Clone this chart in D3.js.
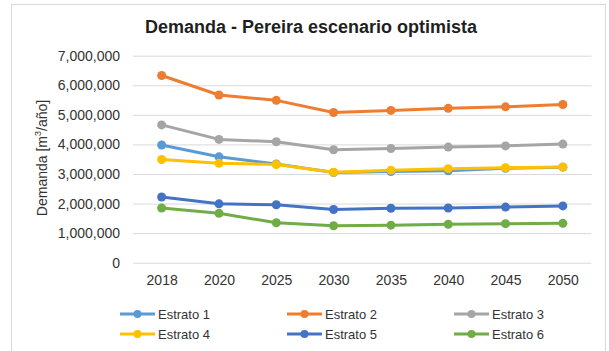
<!DOCTYPE html>
<html>
<head>
<meta charset="utf-8">
<script src="https://cdn.jsdelivr.net/npm/d3@7"></script>
<style>
  html, body { margin: 0; padding: 0; background: #fff; }
  svg { display: block; font-family: "Liberation Sans", Arial, sans-serif; }
</style>
</head>
<body>
<svg id="chart" width="609" height="351"></svg>
<script>
// Years on the horizontal axis
const years = ["2018", "2020", "2025", "2030", "2035", "2040", "2045", "2050"];

// Demand per stratum, m³/año
const estrato1 = [3980000, 3580000, 3340000, 3050000, 3080000, 3110000, 3190000, 3230000];
const estrato2 = [6330000, 5670000, 5490000, 5080000, 5150000, 5220000, 5270000, 5350000];
const estrato3 = [4660000, 4170000, 4090000, 3820000, 3860000, 3910000, 3950000, 4010000];
const estrato4 = [3490000, 3360000, 3320000, 3060000, 3130000, 3180000, 3210000, 3240000];
const estrato5 = [2220000, 1990000, 1960000, 1800000, 1840000, 1850000, 1880000, 1920000];
const estrato6 = [1850000, 1670000, 1350000, 1250000, 1270000, 1300000, 1320000, 1330000];

const seriesNames = ["Estrato 1", "Estrato 2", "Estrato 3", "Estrato 4", "Estrato 5", "Estrato 6"];
const seriesColors = ["#5B9BD5", "#ED7D31", "#A5A5A5", "#FFC000", "#4472C4", "#70AD47"];
const yTicks = [0, 1000000, 2000000, 3000000, 4000000, 5000000, 6000000, 7000000];

const series = [estrato1, estrato2, estrato3, estrato4, estrato5, estrato6].map((vals, i) => ({
  name: seriesNames[i],
  color: seriesColors[i],
  values: vals.map((v, j) => ({ year: years[j], value: v }))
}));

const svg = d3.select("#chart");

// Chart frame
svg.append("rect")
  .attr("x", 11.5).attr("y", 4.5)
  .attr("width", 594).attr("height", 360)
  .attr("fill", "#fff").attr("stroke", "#D9D9D9").attr("stroke-width", 1);

const plot = { left: 133, right: 591.5, top: 55.7, bottom: 262.7 };

const x = d3.scalePoint().domain(years).range([plot.left, plot.right]).padding(0.5);
const y = d3.scaleLinear().domain([0, 7000000]).range([plot.bottom, plot.top]);

// Title
svg.append("text")
  .attr("x", 311).attr("y", 33)
  .attr("text-anchor", "middle")
  .attr("font-size", 18).attr("font-weight", "bold")
  .attr("fill", "#1f1f1f")
  .text("Demanda - Pereira escenario optimista");

// Horizontal gridlines and value labels
const yAxis = d3.axisLeft(y)
  .tickValues(yTicks)
  .tickFormat(d3.format(","))
  .tickSize(-(plot.right - plot.left))
  .tickPadding(13);

const gy = svg.append("g")
  .attr("transform", `translate(${plot.left},0)`)
  .call(yAxis);
gy.select(".domain").remove();
gy.selectAll(".tick line").attr("stroke", "#D9D9D9").attr("stroke-width", 1);
gy.selectAll(".tick text")
  .attr("font-size", 14).attr("fill", "#333")
  .attr("font-family", "Liberation Sans, Arial, sans-serif");

// Category labels
const xAxis = d3.axisBottom(x).tickSize(0).tickPadding(12);
const gx = svg.append("g")
  .attr("transform", `translate(0,${plot.bottom})`)
  .call(xAxis);
gx.select(".domain").remove();
gx.selectAll(".tick text")
  .attr("font-size", 14).attr("fill", "#333")
  .attr("font-family", "Liberation Sans, Arial, sans-serif");

// Vertical axis title
const yTitle = svg.append("text")
  .attr("transform", "translate(47,158) rotate(-90)")
  .attr("text-anchor", "middle")
  .attr("font-size", 14).attr("fill", "#333");
yTitle.append("tspan").text("Demanda [m");
yTitle.append("tspan").attr("font-size", 9).attr("dy", -6).text("3");
yTitle.append("tspan").attr("dy", 6).text("/año]");

// Lines and markers
const line = d3.line().x(d => x(d.year)).y(d => y(d.value));

const gs = svg.append("g").selectAll("g").data(series).join("g");
gs.append("path")
  .attr("d", d => line(d.values))
  .attr("fill", "none")
  .attr("stroke", d => d.color)
  .attr("stroke-width", 3)
  .attr("stroke-linejoin", "round");
gs.selectAll("circle")
  .data(d => d.values.map(v => ({ ...v, color: d.color })))
  .join("circle")
  .attr("cx", d => x(d.year))
  .attr("cy", d => y(d.value))
  .attr("r", 4.5)
  .attr("fill", d => d.color);

// Legend: two rows of three
const legend = svg.append("g");
const legItems = legend.selectAll("g").data(series).join("g")
  .attr("transform", (d, i) => `translate(${120 + (i % 3) * 167},${314 + Math.floor(i / 3) * 20})`);
legItems.append("line")
  .attr("x1", 0).attr("x2", 35).attr("y1", 0).attr("y2", 0)
  .attr("stroke", d => d.color).attr("stroke-width", 3);
legItems.append("circle")
  .attr("cx", 17.5).attr("cy", 0).attr("r", 4)
  .attr("fill", d => d.color);
legItems.append("text")
  .attr("x", 38).attr("y", 0).attr("dy", "0.35em")
  .attr("font-size", 13).attr("fill", "#333")
  .text(d => d.name);
</script>
</body>
</html>
